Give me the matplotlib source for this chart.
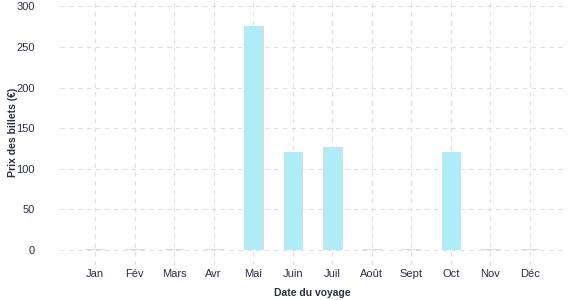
import numpy as np
import matplotlib
matplotlib.use("Agg")
import matplotlib.pyplot as plt

# Données
mois = ["Jan", "Fév", "Mars", "Avr", "Mai", "Juin", "Juil", "Août", "Sept", "Oct", "Nov", "Déc"]
prix = [1, 1, 1, 1, 276, 121, 126, 1, 1, 120, 1, 1]
yticks = [0, 50, 100, 150, 200, 250, 300]

plt.rcParams['font.family'] = ['Liberation Sans', 'DejaVu Sans']
txt = "#2a3044"

fig = plt.figure(figsize=(5.77, 3.0), dpi=100)
ax = fig.add_axes([60/577, 35/300, 505/577, 265/300])

x = np.arange(len(mois))
# ombre légère à droite
ax.bar(x + 0.035, prix, width=0.45, color="#dcdcdc", zorder=2)
ax.bar(x, prix, width=0.45, color="#aeedf8", zorder=3)

ax.set_xlim(-0.89, 11.89)
ax.set_ylim(-19, 308)
ax.set_xticks(x)
ax.set_xticklabels(mois)
ax.set_yticks(yticks)

ax.grid(True, linestyle=(0, (4, 4)), color="#dedede", linewidth=0.8, zorder=0)
for s in ax.spines.values():
    s.set_visible(False)
ax.tick_params(length=0, colors=txt, labelsize=8)
ax.tick_params(axis="y", pad=18)
ax.tick_params(axis="x", pad=3)

ax.set_xlabel("Date du voyage", color=txt, fontsize=7.5, fontweight="bold")
ax.set_ylabel("Prix des billets (€)", color=txt, fontsize=7.5, fontweight="bold")
ax.xaxis.set_label_coords(0.5, (265 - 293) / 265)
ax.xaxis.label.set_va("center")
ax.yaxis.set_label_coords((13 - 60) / 505, 0.5)
ax.yaxis.label.set_va("center")

fig.savefig("out.png", dpi=100)
